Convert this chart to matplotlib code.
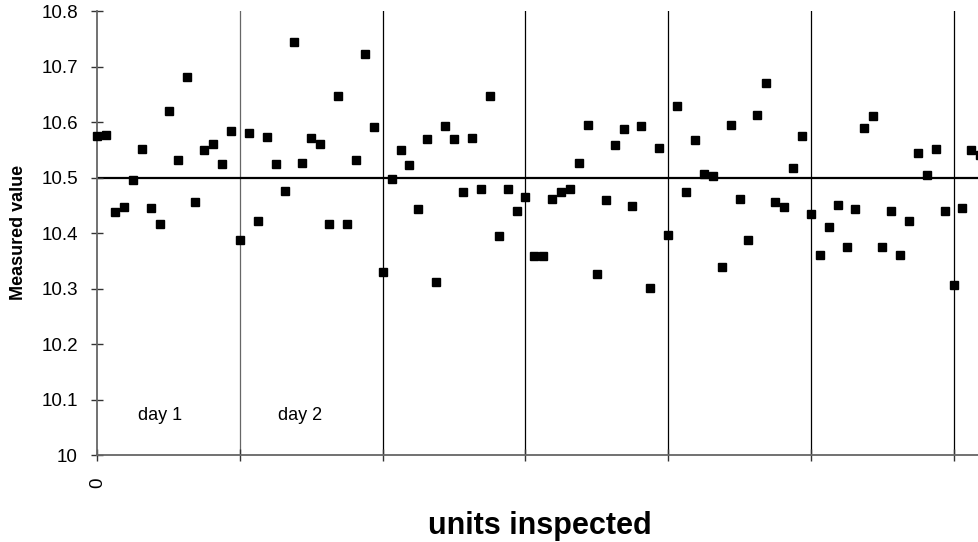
import matplotlib
matplotlib.use("Agg")
import matplotlib.pyplot as plt

plt.rcParams['font.family'] = ['Liberation Sans', 'DejaVu Sans']

# measured value of each inspected unit (unit 0 .. 99)
measured = [
    10.575, 10.576, 10.437, 10.447, 10.495, 10.551, 10.445, 10.416, 10.619, 10.532,
    10.681, 10.456, 10.549, 10.561, 10.525, 10.583, 10.387, 10.581, 10.422, 10.573,
    10.524, 10.476, 10.745, 10.527, 10.571, 10.561, 10.416, 10.647, 10.416, 10.531,
    10.723, 10.591, 10.330, 10.498, 10.550, 10.523, 10.443, 10.570, 10.312, 10.593,
    10.570, 10.473, 10.572, 10.479, 10.647, 10.395, 10.480, 10.440, 10.464, 10.359,
    10.359, 10.461, 10.473, 10.480, 10.526, 10.595, 10.326, 10.459, 10.558, 10.588,
    10.448, 10.593, 10.301, 10.553, 10.397, 10.628, 10.474, 10.567, 10.507, 10.503,
    10.339, 10.595, 10.462, 10.387, 10.613, 10.671, 10.455, 10.446, 10.517, 10.574,
    10.434, 10.361, 10.410, 10.450, 10.375, 10.443, 10.590, 10.611, 10.374, 10.440,
    10.361, 10.421, 10.545, 10.505, 10.552, 10.440, 10.306, 10.445, 10.550, 10.541,
]
units = list(range(len(measured)))

day_breaks = [16, 32, 48, 64, 80, 96]
day_labels = ["day 1", "day 2"]
day_label_x = [7.0, 22.7]
target = 10.5
y_ticks = [10, 10.1, 10.2, 10.3, 10.4, 10.5, 10.6, 10.7, 10.8]
y_ticklabels = ["10", "10.1", "10.2", "10.3", "10.4", "10.5", "10.6", "10.7", "10.8"]

fig = plt.figure(figsize=(9.79, 5.42), dpi=100)
ax = fig.add_axes([0.0994, 0.1605, 0.9006, 0.8192])

# day separators
for i, xb in enumerate(day_breaks):
    ax.axvline(xb, color="#666666" if i == 0 else "black", lw=0.9, zorder=1)

ax.axhline(target, color="black", lw=1.6, zorder=1)

ax.plot(units, measured, linestyle="none", marker="s", markersize=5.8,
        color="black", zorder=3, clip_on=False)

for lab, xl in zip(day_labels, day_label_x):
    ax.text(xl, 10.072, lab, ha="center", va="center", fontsize=13)

ax.set_xlim(0, 98.85)
ax.set_ylim(10, 10.8)
ax.set_yticks(y_ticks)
ax.set_yticklabels(y_ticklabels)
ax.set_xticks([0] + day_breaks)
ax.set_xticklabels(["0"] + [""] * len(day_breaks), rotation=90)

for side in ["top", "right"]:
    ax.spines[side].set_visible(False)
for side in ["left", "bottom"]:
    ax.spines[side].set_color("#666666")
    ax.spines[side].set_linewidth(1.3)

ax.tick_params(axis="y", direction="inout", length=8, width=1, color="#333333",
               labelsize=13.5, pad=10)
ax.tick_params(axis="x", direction="inout", length=8, width=1, color="#333333",
               labelsize=13.5, pad=12)

fig.text(0.0194, 0.571, "Measured value", rotation=90, ha="center", va="center",
         fontsize=13, fontweight="bold")
fig.text(0.551, 0.0148, "units inspected", ha="center", va="baseline",
         fontsize=22, fontweight="bold")

fig.savefig("out.png", dpi=100)
